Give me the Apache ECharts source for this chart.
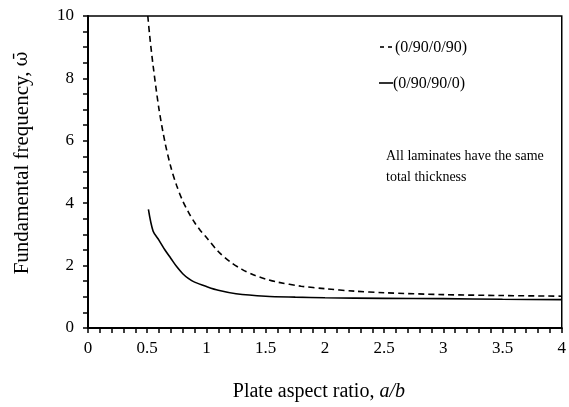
<!DOCTYPE html>
<html>
<head>
<meta charset="utf-8">
<script src="https://cdn.jsdelivr.net/npm/echarts@6/dist/echarts.min.js"></script>
<style>html,body{margin:0;padding:0;background:#fff}#c{width:569px;height:407px}</style>
</head>
<body>
<div id="c"></div>
<script>
// (0/90/0/90) dashed
var xDashed = [0.505, 0.52, 0.55, 0.6, 0.65, 0.7, 0.75, 0.8, 0.85, 0.9, 0.95, 1.0, 1.1, 1.2, 1.3, 1.4, 1.5, 1.6, 1.8, 2.0, 2.25, 2.5, 3.0, 3.5, 4.0];
var yDashed = [10.0, 9.4, 8.4, 7.0, 5.95, 5.15, 4.55, 4.07, 3.7, 3.38, 3.12, 2.9, 2.45, 2.12, 1.88, 1.7, 1.57, 1.47, 1.34, 1.26, 1.18, 1.13, 1.07, 1.04, 1.02];
// (0/90/90/0) solid
var xSolid = [0.51, 0.55, 0.6, 0.65, 0.7, 0.75, 0.8, 0.85, 0.9, 1.0, 1.1, 1.25, 1.5, 1.75, 2.0, 2.5, 3.0, 3.5, 4.0];
var ySolid = [3.8, 3.1, 2.81, 2.5, 2.23, 1.96, 1.74, 1.58, 1.47, 1.33, 1.21, 1.1, 1.02, 0.99, 0.97, 0.95, 0.94, 0.92, 0.91];
var seriesNames = ['(0/90/0/90)', '(0/90/90/0)'];
var xTicks = {min: 0, max: 4, interval: 0.5};
var yTicks = {min: 0, max: 10, interval: 2};
var noteLines = ['All laminates have the same', 'total thickness'];

function pairs(xs, ys) { return xs.map(function (x, i) { return [x, ys[i]]; }); }

var font = 'Liberation Serif, Times New Roman, serif';
var chart = echarts.init(document.getElementById('c'));
chart.setOption({
  animation: false,
  textStyle: {fontFamily: font, color: '#000'},
  grid: {left: 88, right: 7, top: 16, bottom: 77, show: true, borderColor: '#000', borderWidth: 1.5},
  xAxis: {
    type: 'value', min: xTicks.min, max: xTicks.max, interval: xTicks.interval,
    name: 'Plate aspect ratio, {i|a/b}', nameLocation: 'middle', nameGap: 54,
    nameTextStyle: {fontFamily: font, fontSize: 20, color: '#000', padding: [0, 12, 0, 0],
      rich: {i: {fontFamily: font, fontSize: 20, fontStyle: 'italic', color: '#000'}}},
    axisLine: {lineStyle: {color: '#000', width: 2}},
    axisTick: {show: true, length: 5, lineStyle: {color: '#000', width: 1.5}},
    minorTick: {show: true, splitNumber: 5, length: 5, lineStyle: {color: '#000', width: 1.5}},
    splitLine: {show: false},
    axisLabel: {fontFamily: font, fontSize: 17, color: '#000', margin: 12}
  },
  yAxis: {
    type: 'value', min: yTicks.min, max: yTicks.max, interval: yTicks.interval,
    name: 'Fundamental frequency, {w|\u03C9\u0304}', nameLocation: 'middle', nameGap: 55, nameRotate: 90,
    nameTextStyle: {fontFamily: font, fontSize: 21, color: '#000', padding: [0, 0, 0, 18],
      rich: {w: {fontFamily: 'DejaVu Serif', fontSize: 18, color: '#000'}}},
    axisLine: {lineStyle: {color: '#000', width: 2}},
    axisTick: {show: true, length: 5, lineStyle: {color: '#000', width: 1.5}},
    minorTick: {show: true, splitNumber: 4, length: 5, lineStyle: {color: '#000', width: 1.5}},
    splitLine: {show: false},
    axisLabel: {fontFamily: font, fontSize: 17, color: '#000', margin: 14}
  },
  graphic: [
    {type: 'line', shape: {x1: 380, y1: 47, x2: 392, y2: 47}, style: {stroke: '#000', lineWidth: 1.6, lineDash: [4, 4]}},
    {type: 'text', left: 395, top: 40, style: {text: seriesNames[0], font: '16px ' + font, fill: '#000'}},
    {type: 'line', shape: {x1: 379, y1: 83, x2: 393, y2: 83}, style: {stroke: '#000', lineWidth: 1.6}},
    {type: 'text', left: 393, top: 76, style: {text: seriesNames[1], font: '16px ' + font, fill: '#000'}},
    {type: 'text', left: 386, top: 146,
     style: {text: noteLines.join('\n'), font: '14px ' + font, fill: '#000', lineHeight: 21}}
  ],
  series: [
    {name: seriesNames[0], type: 'line', data: pairs(xDashed, yDashed), symbol: 'none', smooth: 0.3,
     lineStyle: {color: '#000', width: 1.6, type: [6, 4]}, itemStyle: {color: '#000'}},
    {name: seriesNames[1], type: 'line', data: pairs(xSolid, ySolid), symbol: 'none', smooth: 0.3,
     lineStyle: {color: '#000', width: 1.6, type: 'solid'}, itemStyle: {color: '#000'}}
  ]
});
</script>
</body>
</html>
